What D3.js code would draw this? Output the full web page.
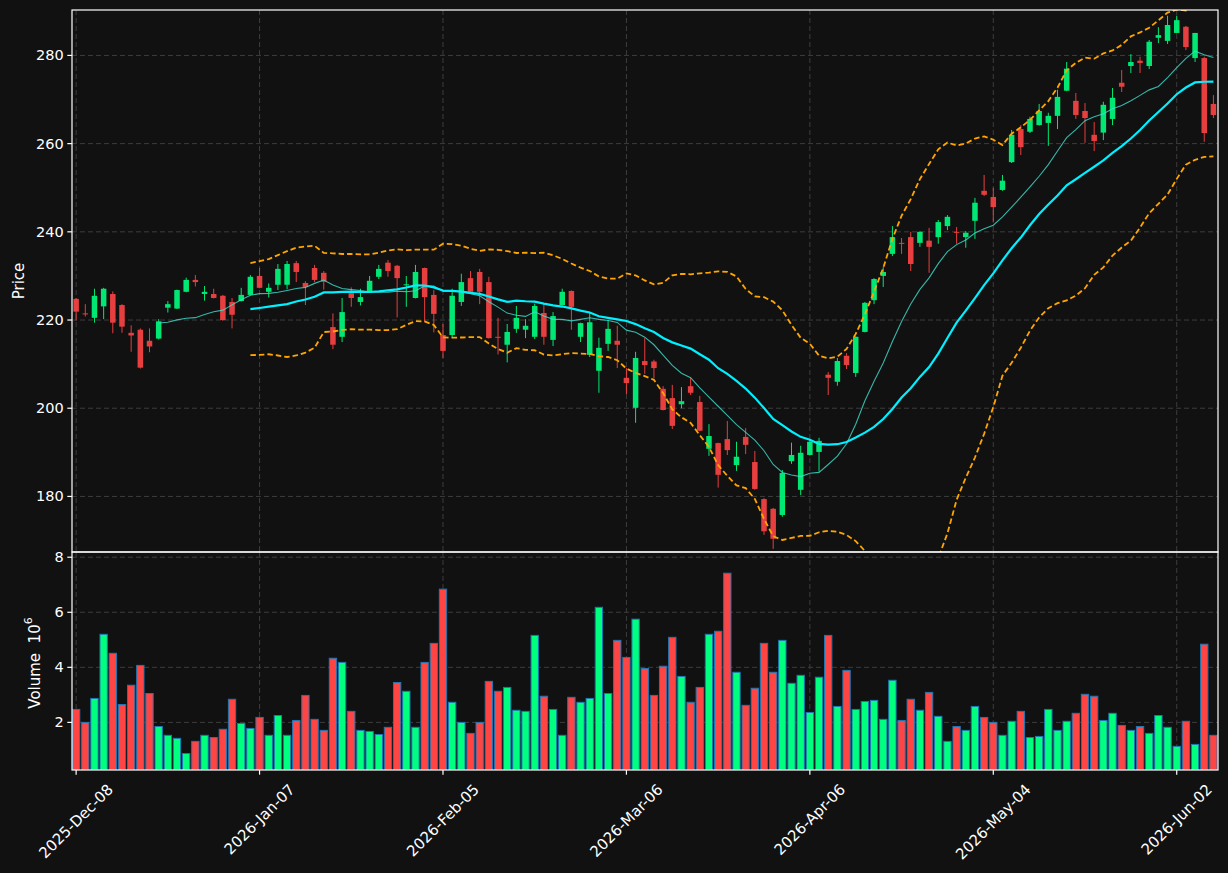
<!DOCTYPE html>
<html><head><meta charset="utf-8">
<script src="https://cdn.jsdelivr.net/npm/d3@7"></script>
<style>html,body{margin:0;background:#111111;} svg{display:block;font-family:"DejaVu Sans",sans-serif;}</style>
</head><body><svg id="c" width="1228" height="873"></svg>
<script>
// ---- data (prices in $, volume in millions) ----
const opens = [224.8,221.5,220.5,223.1,225.9,223.4,217.1,217.8,215.3,215.8,
222.8,222.6,226.4,229.1,225.9,225.9,225.5,224.1,224.3,225.7,
230.0,226.4,228.0,228.0,232.9,228.4,231.8,230.7,218.4,216.2,
226.1,224.1,226.4,229.8,233.0,232.3,227.9,225.0,231.8,225.7,
216.6,216.6,224.1,229.5,230.9,228.6,216.2,214.4,218.0,217.8,
216.2,221.6,215.5,223.4,226.6,216.2,212.1,208.5,214.6,215.3,
206.9,200.1,210.7,210.6,204.4,202.3,200.9,205.0,201.4,190.8,
192.1,193.0,187.1,193.5,187.8,179.4,177.2,175.8,188.0,181.5,
189.4,190.1,207.6,206.0,211.9,208.0,217.3,224.5,230.0,235.0,
237.5,238.8,237.5,238.0,238.8,241.3,240.0,238.8,242.5,249.3,
247.9,249.5,255.8,263.3,262.7,264.2,264.7,266.3,272.0,269.7,
267.4,262.0,262.5,265.6,273.8,277.6,278.8,277.6,284.0,283.3,
285.1,286.5,279.4,279.4,269.0];
const highs = [225.0,223.6,227.1,227.3,226.5,223.6,218.8,218.1,218.1,220.2,
224.3,226.9,229.6,230.2,227.7,227.1,225.7,225.0,227.3,230.2,
231.8,228.3,232.7,233.4,233.4,228.8,232.5,231.1,221.5,225.0,
227.4,227.1,230.0,232.5,233.6,232.5,230.0,232.5,231.9,226.8,
219.1,227.1,230.5,231.1,231.6,229.8,220.5,219.1,223.2,220.2,
223.7,223.7,221.8,227.1,226.7,219.4,221.6,216.0,220.0,218.7,
209.1,212.8,215.9,211.0,205.0,205.3,204.8,206.9,202.8,196.4,
192.2,197.1,192.4,195.5,190.3,179.6,177.4,186.0,192.2,191.5,
193.0,193.3,208.2,211.4,212.5,216.3,224.1,229.5,232.0,241.3,
238.6,240.0,240.1,240.9,242.7,243.8,241.1,240.2,247.7,252.9,
250.0,252.9,263.1,264.2,266.1,269.0,267.0,272.2,278.5,271.5,
269.2,264.9,269.5,272.6,276.7,280.3,279.7,283.5,286.4,289.0,
289.0,286.7,285.1,279.7,271.0];
const lows = [219.9,220.8,219.4,220.2,217.0,217.1,212.8,209.0,212.7,215.6,
221.7,222.5,226.3,227.6,224.4,224.9,219.8,218.1,224.2,225.6,
227.2,225.1,226.8,227.0,228.6,223.4,228.6,226.9,213.4,215.0,
223.0,223.3,226.3,229.3,229.8,220.6,223.0,224.9,219.5,217.2,
211.4,215.9,223.2,226.3,223.6,215.8,212.2,210.4,217.1,215.9,
215.7,214.4,214.1,223.3,217.8,215.0,211.6,203.5,213.0,209.1,
203.2,196.7,207.8,206.8,199.5,195.3,200.0,203.0,194.8,189.2,
182.0,189.4,185.8,189.6,181.5,171.3,168.1,175.4,187.4,180.3,
189.3,185.6,203.0,205.1,208.9,207.1,217.2,223.6,227.5,234.5,
235.0,231.1,236.6,230.7,237.3,240.4,237.3,236.4,238.4,248.1,
242.3,249.3,255.6,257.4,262.4,264.1,259.5,263.3,271.9,265.6,
260.2,258.3,260.8,264.2,271.7,276.0,276.0,276.9,282.8,282.6,
285.0,281.2,278.5,260.4,265.8];
const closes = [221.9,221.3,225.5,227.1,219.4,218.5,216.5,209.2,214.0,219.7,
223.6,226.8,229.1,228.6,226.4,225.0,220.0,221.2,225.7,229.8,
227.3,227.3,231.6,232.7,230.9,227.5,229.1,228.7,214.4,221.8,
225.0,225.2,228.9,231.6,231.1,229.5,228.1,230.9,225.2,221.4,
213.0,225.5,228.6,226.4,226.4,215.9,216.0,217.3,220.5,218.7,
223.2,216.2,220.9,226.4,223.0,219.3,219.5,213.7,218.0,214.4,
205.7,211.4,209.8,209.1,199.6,196.0,201.6,203.5,194.9,193.7,
184.9,190.5,189.0,191.7,181.7,172.1,170.4,185.3,189.4,189.9,
192.4,192.6,206.9,210.7,209.8,216.2,223.9,229.3,230.9,238.8,
237.3,232.7,240.0,236.6,242.2,243.4,239.8,239.8,246.6,248.4,
245.6,251.6,262.0,259.2,265.6,267.4,266.3,270.6,277.0,266.5,
265.8,260.6,268.8,270.4,272.9,278.5,278.3,283.1,284.6,286.9,
288.0,281.9,285.1,262.4,266.5];
const volumes = [2.47,2.00,2.87,5.20,4.51,2.65,3.35,4.07,3.05,1.85,
1.53,1.42,0.87,1.31,1.53,1.45,1.75,2.84,1.96,1.78,
2.18,1.53,2.25,1.53,2.07,2.98,2.11,1.71,4.33,4.18,
2.40,1.71,1.67,1.56,1.82,3.45,3.13,1.82,4.18,4.87,
6.84,2.73,2.00,1.60,2.00,3.49,3.13,3.27,2.44,2.40,
5.16,2.95,2.47,1.53,2.91,2.73,2.87,6.18,3.05,4.98,
4.36,5.75,3.96,2.98,4.04,5.09,3.67,2.73,3.27,5.20,
5.31,7.42,3.82,2.62,3.24,4.87,3.82,4.98,3.42,3.71,
2.36,3.64,5.16,2.58,3.89,2.47,2.76,2.80,2.11,3.53,
2.07,2.84,2.44,3.09,2.22,1.31,1.85,1.71,2.58,2.18,
2.00,1.53,2.04,2.40,1.45,1.49,2.47,1.71,2.04,2.33,
3.02,2.95,2.07,2.33,1.89,1.71,1.85,1.60,2.25,1.82,
1.13,2.04,1.20,4.84,1.53];
const startDate = "2025-12-08";
const marketHolidays = ["2025-12-25","2026-01-01","2026-01-19","2026-02-16","2026-04-03","2026-05-25"];
const priceTicks = [180,200,220,240,260,280];
const volumeTicks = [2,4,6,8];
const xTickStep = 20;
const maShort = 10, maLong = 20, bandK = 2;

// ---- trading-day calendar ----
const n = closes.length;
const dates = [];
{
  let d = new Date(startDate + "T00:00:00Z");
  const hol = new Set(marketHolidays);
  while (dates.length < n) {
    const wd = d.getUTCDay();
    const iso = d.toISOString().slice(0,10);
    if (wd !== 0 && wd !== 6 && !hol.has(iso)) dates.push(new Date(d));
    d = new Date(d.getTime() + 86400000);
  }
}
const fmt = d3.utcFormat("%Y-%b-%d");
const xTickIdx = d3.range(0, n, xTickStep);

// ---- indicators ----
function sma(a, p){ return a.map((_, i) => i < p-1 ? null : d3.mean(a.slice(i-p+1, i+1))); }
function pstd(a, p){ return a.map((_, i) => { if (i < p-1) return null; const s = a.slice(i-p+1, i+1); const m = d3.mean(s); return Math.sqrt(d3.mean(s, v => (v-m)*(v-m))); }); }
const ma10 = sma(closes, maShort);
const ma20 = sma(closes, maLong);
const sd20 = pstd(closes, maLong);
const upper = ma20.map((m, i) => m == null ? null : m + bandK*sd20[i]);
const lower = ma20.map((m, i) => m == null ? null : m - bandK*sd20[i]);

// ---- layout ----
const L = 72, R = 1218, PT = 10, PB = 552, VT = 552, VB = 770;
const svg = d3.select("#c");
const x = d3.scaleLinear().domain([-0.45, n - 0.5]).range([L, R]);
const yP = d3.scaleLinear().domain([167.4, 290.3]).range([PB, PT]);
const yV = d3.scaleLinear().domain([0.27, 8.19]).range([VB, VT]);
const step = x(1) - x(0);

const UP = "#00ff7f", DN = "#ff4444", BG = "#111111", GRID = "#3d3d3d", FG = "#ffffff";

svg.append("rect").attr("width", 1228).attr("height", 873).attr("fill", BG);
const defs = svg.append("defs");
defs.append("clipPath").attr("id", "cp").append("rect").attr("x", L).attr("y", PT).attr("width", R-L).attr("height", PB-PT);
defs.append("clipPath").attr("id", "cv").append("rect").attr("x", L).attr("y", VT).attr("width", R-L).attr("height", VB-VT);

// grids
const gP = svg.append("g").attr("clip-path", "url(#cp)");
const gV = svg.append("g").attr("clip-path", "url(#cv)");
[[gP, priceTicks, yP, PT, PB], [gV, volumeTicks, yV, VT, VB]].forEach(([g, ticks, ys, t, b]) => {
  g.selectAll(".hg").data(ticks).join("line").attr("x1", L).attr("x2", R)
    .attr("y1", d => ys(d)).attr("y2", d => ys(d))
    .attr("stroke", GRID).attr("stroke-width", 1).attr("stroke-dasharray", "5,3");
  g.selectAll(".vg").data(xTickIdx).join("line").attr("y1", t).attr("y2", b)
    .attr("x1", d => x(d)).attr("x2", d => x(d))
    .attr("stroke", GRID).attr("stroke-width", 1).attr("stroke-dasharray", "5,3");
});

// volume bars
const vw = step * 0.8;
gV.selectAll(".vb").data(volumes).join("rect")
  .attr("x", (d, i) => x(i) - vw/2).attr("width", vw)
  .attr("y", d => yV(d)).attr("height", d => VB + 2 - yV(d))
  .attr("fill", (d, i) => closes[i] >= opens[i] ? UP : DN)
  .attr("stroke", "#1f77b4").attr("stroke-width", 1);

// candles
const bw = step * 0.6;
const cg = gP.append("g").attr("opacity", 0.9);
cg.selectAll(".wk").data(closes).join("line")
  .attr("x1", (d, i) => x(i)).attr("x2", (d, i) => x(i))
  .attr("y1", (d, i) => yP(highs[i])).attr("y2", (d, i) => yP(lows[i]))
  .attr("stroke", (d, i) => d >= opens[i] ? UP : DN).attr("stroke-width", 1);
cg.selectAll(".bd").data(closes).join("rect")
  .attr("x", (d, i) => x(i) - bw/2).attr("width", bw)
  .attr("y", (d, i) => yP(Math.max(d, opens[i])))
  .attr("height", (d, i) => Math.max(1, Math.abs(yP(d) - yP(opens[i]))))
  .attr("fill", (d, i) => d >= opens[i] ? UP : DN);

// indicator lines
const line = d3.line().defined(d => d != null).x((d, i) => x(i)).y(d => yP(d));
gP.append("path").attr("d", line(upper)).attr("fill", "none").attr("stroke", "#ffa500").attr("stroke-width", 1.8).attr("stroke-dasharray", "5.5,3");
gP.append("path").attr("d", line(lower)).attr("fill", "none").attr("stroke", "#ffa500").attr("stroke-width", 1.8).attr("stroke-dasharray", "5.5,3");
gP.append("path").attr("d", line(ma10)).attr("fill", "none").attr("stroke", "#40e0d0").attr("stroke-opacity", 0.8).attr("stroke-width", 1.1);
gP.append("path").attr("d", line(ma20)).attr("fill", "none").attr("stroke", "#00f0ff").attr("stroke-width", 2.2);

// frames
[[PT, PB], [VT, VB]].forEach(([t, b]) => {
  svg.append("rect").attr("x", L).attr("y", t).attr("width", R-L).attr("height", b-t)
    .attr("fill", "none").attr("stroke", FG).attr("stroke-width", 1.2);
});

// y axes
const tickLen = 4.7;
[[priceTicks, yP], [volumeTicks, yV]].forEach(([ticks, ys]) => {
  const g = svg.append("g");
  g.selectAll("line").data(ticks).join("line").attr("x1", L - tickLen).attr("x2", L)
    .attr("y1", d => ys(d)).attr("y2", d => ys(d)).attr("stroke", FG).attr("stroke-width", 1.2);
  g.selectAll("text").data(ticks).join("text").attr("x", L - tickLen - 3.5).attr("y", d => ys(d))
    .attr("text-anchor", "end").attr("dominant-baseline", "central")
    .attr("fill", FG).attr("font-size", 14.5).text(d => d);
});

// x axis (bottom of volume panel)
const gx = svg.append("g");
gx.selectAll("line").data(xTickIdx).join("line").attr("x1", d => x(d)).attr("x2", d => x(d))
  .attr("y1", VB).attr("y2", VB + tickLen).attr("stroke", FG).attr("stroke-width", 1.2);
gx.selectAll("text").data(xTickIdx).join("text")
  .attr("text-anchor", "middle").attr("dominant-baseline", "central")
  .attr("fill", FG).attr("font-size", 15).text(d => fmt(dates[d]))
  .each(function(d) {
    const len = this.getComputedTextLength();
    const cy = 782 + (len + 14) / (2 * Math.SQRT2);
    d3.select(this).attr("transform", `translate(${x(d)},${cy}) rotate(-45)`);
  });

// axis titles
svg.append("text").attr("transform", `translate(24,${(PT+PB)/2}) rotate(-90)`)
  .attr("text-anchor", "middle").attr("fill", FG).attr("font-size", 15).text("Price");
const vt = svg.append("text").attr("transform", `translate(40,${(VT+VB)/2 + 2}) rotate(-90)`)
  .attr("text-anchor", "middle").attr("fill", FG).attr("font-size", 15);
vt.append("tspan").text("Volume\u00a0\u00a010");
vt.append("tspan").attr("font-size", 11).attr("dy", -8).text("6");
</script></body></html>
